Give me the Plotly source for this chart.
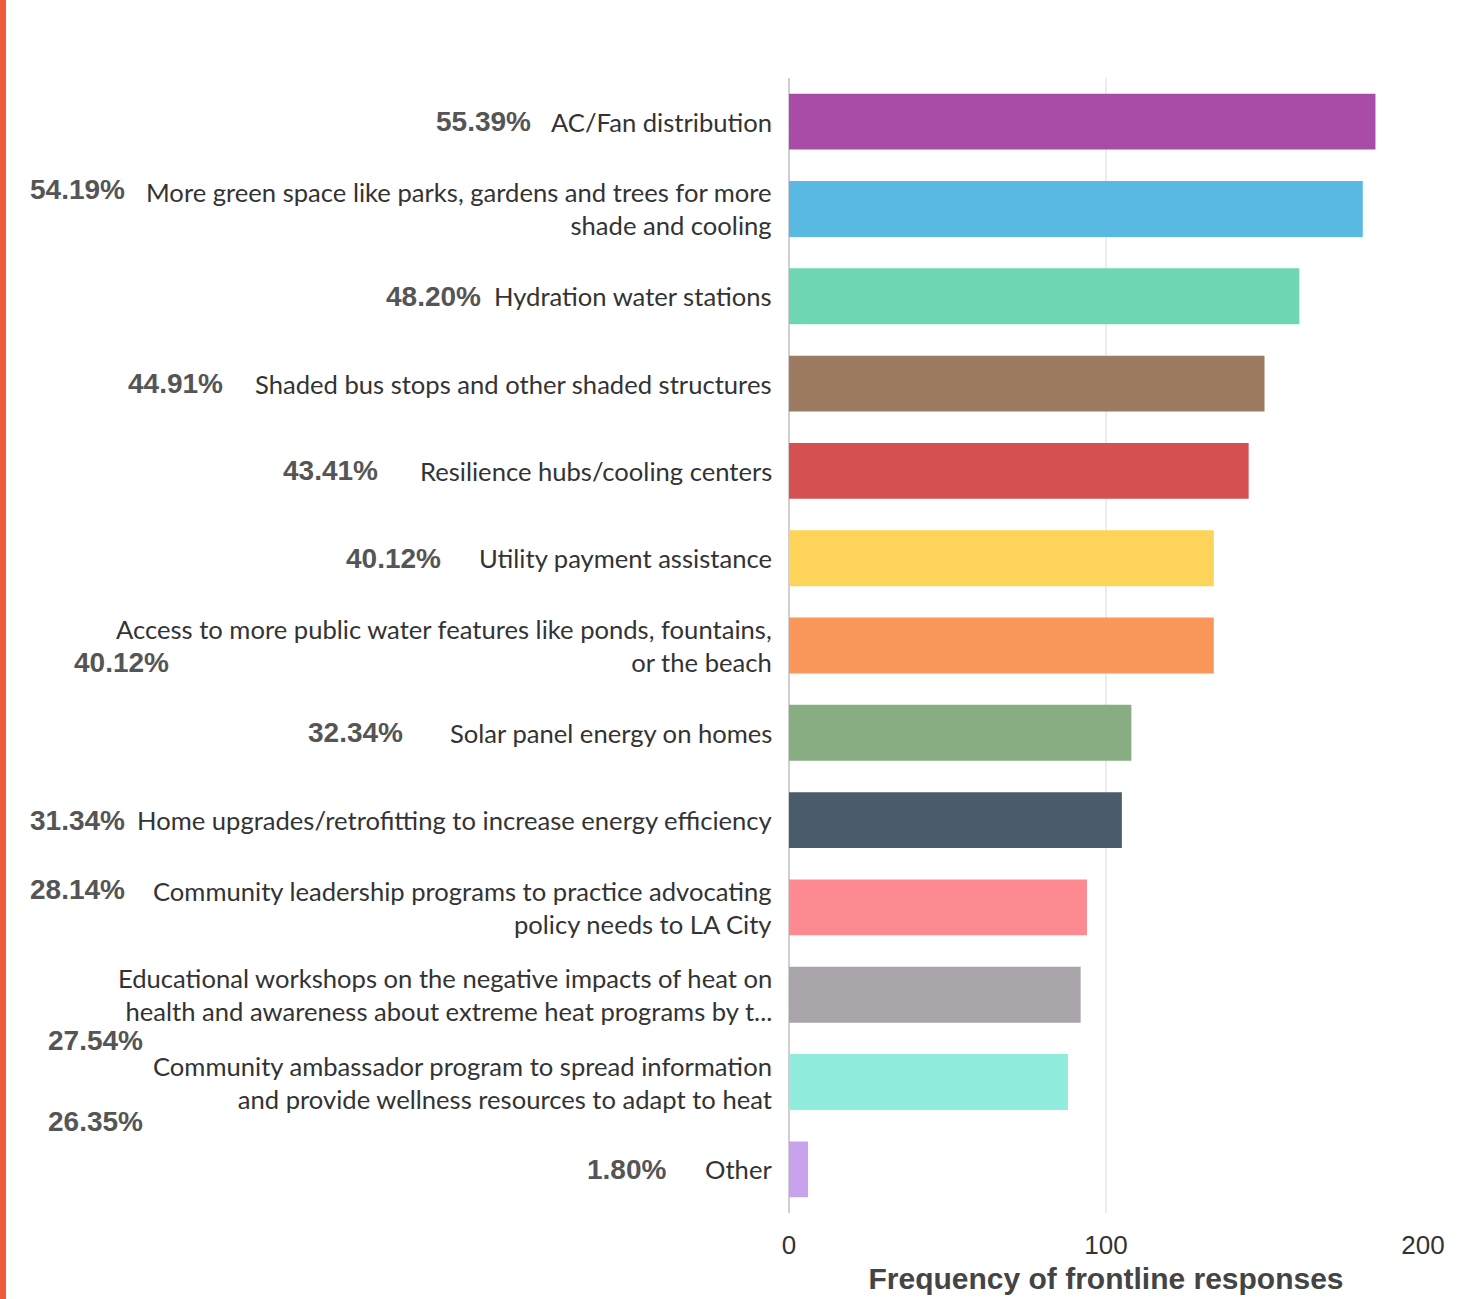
import plotly.graph_objects as go

# ---- data ----
categories = [
    "AC/Fan distribution",
    "More green space like parks, gardens and trees for more<br>shade and cooling",
    "Hydration water stations",
    "Shaded bus stops and other shaded structures",
    "Resilience hubs/cooling centers",
    "Utility payment assistance",
    "Access to more public water features like ponds, fountains,<br>or the beach",
    "Solar panel energy on homes",
    "Home upgrades/retrofitting to increase energy efficiency",
    "Community leadership programs to practice advocating<br>policy needs to LA City",
    "Educational workshops on the negative impacts of heat on<br>health and awareness about extreme heat programs by t...",
    "Community ambassador program to spread information<br>and provide wellness resources to adapt to heat",
    "Other",
]
counts = [185, 181, 161, 150, 145, 134, 134, 108, 105, 94, 92, 88, 6]
pct_labels = ["55.39%", "54.19%", "48.20%", "44.91%", "43.41%", "40.12%", "40.12%",
              "32.34%", "31.34%", "28.14%", "27.54%", "26.35%", "1.80%"]
x_ticks = [0, 100, 200]

# ---- style ----
colors = ["#a84ca8", "#5ab9e2", "#6fd6b3", "#9c7b61", "#d55050", "#fdd35a", "#f9985a",
          "#89ad82", "#4a5c6c", "#fd8a90", "#a8a4aa", "#90ecdc", "#c8a2ec"]
pct_right_px = [533, 127, 483, 225, 380, 443, 171, 405, 127, 127, 145, 145, 668]
pct_yshift = [0, 19, 0, 0, 0, 0, -17, 0, 0, 18, -46, -39, 0]

W, H = 1475, 1299
ML, MR, MT, MB = 789, 52, 78, 86
plot_w = W - ML - MR
plot_h = H - MT - MB

fig = go.Figure(go.Bar(
    x=counts, y=categories, orientation="h",
    marker=dict(color=colors, line=dict(width=0)),
    width=0.64, hoverinfo="x+y",
))

annotations = []
for cat, pct, px, ys in zip(categories, pct_labels, pct_right_px, pct_yshift):
    annotations.append(dict(
        x=0, xref="paper", y=cat, yref="y", text=cat, showarrow=False,
        xanchor="right", yanchor="middle", align="right", xshift=-15,
        font=dict(family="Lato", size=25.6, color="#333333"),
    ))
    annotations.append(dict(
        x=0, xref="paper", y=cat, yref="y", text="<b>" + pct + "</b>", showarrow=False,
        xanchor="right", yanchor="middle", xshift=px - ML, yshift=ys,
        font=dict(family="Liberation Sans", size=28, color="#555555"),
    ))

fig.update_layout(
    width=W, height=H,
    margin=dict(l=ML, r=MR, t=MT, b=MB, autoexpand=False),
    paper_bgcolor="white", plot_bgcolor="white",
    showlegend=False,
    bargap=0.36,
    annotations=annotations,
    shapes=[dict(type="rect", xref="paper", yref="paper",
                 x0=-ML / plot_w, x1=(6 - ML) / plot_w,
                 y0=-MB / plot_h - 0.01, y1=1 + MT / plot_h + 0.01,
                 fillcolor="#ee5a3c", line=dict(width=0), layer="above")],
    xaxis=dict(
        range=[0, 200], tickvals=x_ticks, ticktext=[str(v) for v in x_ticks],
        showgrid=True, gridcolor="#ececec", gridwidth=2,
        zeroline=True, zerolinecolor="#cfcfcf", zerolinewidth=2,
        showline=False, ticks="", ticklabelstandoff=14,
        tickfont=dict(family="Liberation Sans", size=26, color="#333333"),
        title=dict(text="<b>Frequency of frontline responses</b>", standoff=8,
                   font=dict(family="Liberation Sans", size=30, color="#444444")),
        fixedrange=True,
    ),
    yaxis=dict(
        categoryorder="array", categoryarray=categories, autorange="reversed",
        showticklabels=False, showgrid=False, ticks="", fixedrange=True,
    ),
)

fig.write_html("out.html", config={"displayModeBar": False},
               post_script="document.body.style.margin='0';")
